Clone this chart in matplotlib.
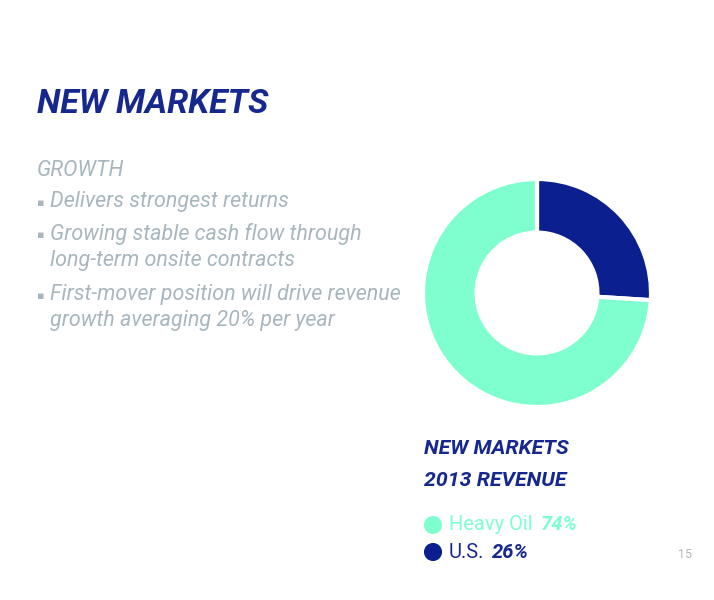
import matplotlib
matplotlib.use("Agg")
import matplotlib.pyplot as plt

# data
labels = ["U.S.", "Heavy Oil"]
shares = [26, 74]
colors = ["#0b1f8f", "#7fffcf"]
bullets = [
    "Delivers strongest returns",
    "Growing stable cash flow through\nlong-term onsite contracts",
    "First-mover position will drive revenue\ngrowth averaging 20% per year",
]

W, H = 714, 600
NAVY = "#16288e"
GREY = "#a9b6be"

plt.rcParams["font.family"] = ["Roboto", "DejaVu Sans"]

fig = plt.figure(figsize=(W / 100, H / 100), dpi=100)
fig.patch.set_facecolor("white")


def px(x, y):
    return x / W, 1 - y / H


# headline
fig.text(*px(37, 104), "NEW MARKETS", fontsize=24.5, fontweight="bold",
         fontstyle="italic", color=NAVY, va="center", ha="left")

fig.text(*px(37, 171), "GROWTH", fontsize=15.5, fontstyle="italic",
         color=GREY, va="center", ha="left")

ys = [203, 235, 296]
for y, b in zip(ys, bullets):
    fig.text(*px(37, y), "\u25aa", fontsize=8, color=GREY, va="center", ha="left")
    fig.text(*px(50, y - 12), b, fontsize=15.5, fontstyle="italic", color=GREY,
             va="top", ha="left", linespacing=1.32)

# donut
cx, cy, r = 537, 293, 114
ax = fig.add_axes([(cx - r) / W, 1 - (cy + r) / H, 2 * r / W, 2 * r / H])
ax.pie(shares, colors=colors, startangle=90, counterclock=False, radius=1,
       wedgeprops=dict(width=0.47, edgecolor="white", linewidth=3))
ax.set_xlim(-1, 1)
ax.set_ylim(-1, 1)
ax.axis("off")

# chart caption
for y, line in zip([449, 480], ["NEW MARKETS", "2013 REVENUE"]):
    fig.text(*px(424, y), line, fontsize=15.3, fontweight="bold",
             fontstyle="italic", color=NAVY, va="center", ha="left")

# legend
lg = fig.add_axes([0, 0, 1, 1])
lg.set_xlim(0, W)
lg.set_ylim(H, 0)
lg.axis("off")
leg_y = [525, 552]
order = [1, 0]
fig.canvas.draw()
for y, i in zip(leg_y, order):
    c = colors[i] if i == 1 else NAVY
    lg.scatter([433], [y], s=170, color=colors[i], edgecolors="none")
    t = lg.text(449, y, labels[i], fontsize=14.5, color=c, va="center", ha="left")
    bb = t.get_window_extent(renderer=fig.canvas.get_renderer())
    lg.text(bb.x1 + 8, H - y, f"{shares[i]}%", fontsize=14.5, fontweight="bold",
            fontstyle="italic", color=c, va="center", ha="left", transform=None)

fig.text(*px(678, 555), "15", fontsize=9, color="#b0b8bd", va="center", ha="left")

fig.savefig("out.png", dpi=100, facecolor="white")
